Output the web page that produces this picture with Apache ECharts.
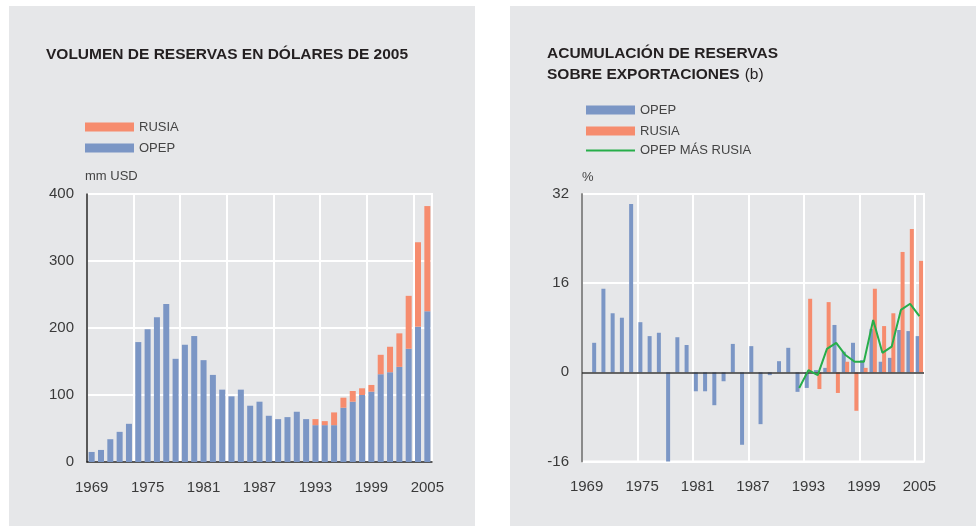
<!DOCTYPE html>
<html>
<head>
<meta charset="utf-8">
<script src="https://cdn.jsdelivr.net/npm/echarts@6/dist/echarts.min.js"></script>
<style>
html, body { margin: 0; padding: 0; background: #fff; }
#container { width: 976px; height: 526px; }
</style>
</head>
<body>
<div id="container"></div>
<script>
// años (eje x de los dos gráficos)
var years = ['1969','1970','1971','1972','1973','1974','1975','1976','1977','1978',
    '1979','1980','1981','1982','1983','1984','1985','1986','1987','1988',
    '1989','1990','1991','1992','1993','1994','1995','1996','1997','1998',
    '1999','2000','2001','2002','2003','2004','2005'];

// volumen de reservas, mm USD de 2005
var opepVol = [15,18,34,45,57,179,198,216,236,154,175,188,152,130,108,98,108,84,90,69,
    64,67,75,64,55,55,55,81,90,100,105,131,134,142,169,202,225];
var rusiaVol = [null,null,null,null,null,null,null,null,null,null,null,null,null,null,null,null,
    null,null,null,null,null,null,null,null,9,6,19,15,16,10,10,29,38,50,79,126,157];

// acumulación de reservas sobre exportaciones, %
var opepAcc = [null,5.3,15.0,10.6,9.8,30.2,9.0,6.5,7.1,-16.0,6.3,4.9,-3.4,-3.4,-5.9,-1.6,
    5.1,-13.0,4.7,-9.3,-0.5,2.0,4.4,-3.5,-2.8,0.4,0.8,8.5,3.7,5.3,2.2,7.8,1.9,2.6,7.6,7.4,6.5];
var rusiaAcc = [null,null,null,null,null,null,null,null,null,null,null,null,null,null,null,null,
    null,null,null,null,null,null,null,null,13.2,-3.0,12.6,-3.7,1.9,-6.9,0.8,15.0,8.3,10.6,21.6,25.7,20.0];
var totalAcc = [null,null,null,null,null,null,null,null,null,null,null,null,null,null,null,null,
    null,null,null,null,null,null,null,-2.8,0.4,-0.5,4.2,5.3,3.1,1.9,1.9,9.4,3.5,4.6,11.2,12.3,10.1];

var blue = '#7b96c5';
var orange = '#f68c6e';
var green = '#27ae4a';
var font = 'Liberation Sans';

var dom = document.getElementById('container');
var myChart = echarts.init(dom, null, {renderer: 'canvas'});

var labelStyle = {color: '#3a3a3a', fontSize: 15, fontFamily: font};
var legendText = {color: '#444', fontSize: 13, fontFamily: font};

var option = {
    animation: false,
    backgroundColor: '#fff',
    graphic: [
        {type: 'rect', z: -10, shape: {x: 9, y: 6, width: 466, height: 520}, style: {fill: '#e6e7e9'}},
        {type: 'rect', z: -10, shape: {x: 510, y: 6, width: 466, height: 520}, style: {fill: '#e6e7e9'}}
    ],
    title: [{
        text: 'VOLUMEN DE RESERVAS EN DÓLARES DE 2005',
        left: 46, top: 47, padding: 0,
        textStyle: {fontFamily: font, fontSize: 15.5, fontWeight: 'bold', color: '#231f20'}
    }, {
        text: '{b|ACUMULACIÓN DE RESERVAS}\n{b|SOBRE EXPORTACIONES} {n|(b)}',
        left: 547, top: 43.5, padding: 0,
        textStyle: {
            rich: {
                b: {fontFamily: font, fontSize: 15.5, fontWeight: 'bold', color: '#231f20', lineHeight: 21},
                n: {fontFamily: font, fontSize: 15.5, fontWeight: 'normal', color: '#231f20', lineHeight: 21}
            }
        }
    }],
    legend: [{
        left: 85, top: 120.5, orient: 'vertical', padding: 0, itemGap: 8,
        itemWidth: 49, itemHeight: 9, icon: 'rect', selectedMode: false,
        textStyle: legendText,
        data: ['RUSIA', 'OPEP']
    }, {
        left: 586, top: 103.5, orient: 'vertical', padding: 0, itemGap: 8,
        itemWidth: 49, itemHeight: 9, icon: 'rect', selectedMode: false,
        textStyle: legendText,
        data: ['OPEP', 'RUSIA']
    }, {
        left: 586, top: 144, orient: 'vertical', padding: 0,
        itemWidth: 49, itemHeight: 2, icon: 'rect', selectedMode: false,
        textStyle: legendText,
        data: ['OPEP MÁS RUSIA']
    }],
    grid: [
        {left: 87, top: 194, width: 345, height: 268, show: true, borderColor: '#fff', borderWidth: 2, backgroundColor: 'transparent'},
        {left: 582, top: 194, width: 342, height: 267.5, show: true, borderColor: '#fff', borderWidth: 2, backgroundColor: 'transparent'}
    ],
    xAxis: [{
        type: 'category', gridIndex: 0, data: years, boundaryGap: true,
        axisLine: {lineStyle: {color: '#222', width: 1.5}},
        axisTick: {show: false},
        axisLabel: Object.assign({interval: 5, margin: 18}, labelStyle),
        splitLine: {show: true, interval: 4, lineStyle: {color: '#fff', width: 2}}
    }, {
        type: 'category', gridIndex: 1, data: years, boundaryGap: true,
        axisLine: {show: false, onZero: false},
        axisTick: {show: false},
        axisLabel: Object.assign({interval: 5, margin: 18}, labelStyle),
        splitLine: {show: true, interval: 5, lineStyle: {color: '#fff', width: 2}}
    }],
    yAxis: [{
        type: 'value', gridIndex: 0, min: 0, max: 400, interval: 100,
        name: 'mm USD', nameLocation: 'end', nameGap: 18,
        nameTextStyle: {align: 'left', verticalAlign: 'middle', padding: [0, 0, 0, -2], color: '#444', fontSize: 13, fontFamily: font},
        axisLine: {show: true, lineStyle: {color: '#222', width: 1.5}},
        axisTick: {show: false},
        axisLabel: Object.assign({margin: 13}, labelStyle),
        splitLine: {lineStyle: {color: '#fff', width: 2}}
    }, {
        type: 'value', gridIndex: 1, min: -16, max: 32, interval: 16,
        name: '%', nameLocation: 'end', nameGap: 17,
        nameTextStyle: {align: 'left', verticalAlign: 'middle', color: '#444', fontSize: 13, fontFamily: font},
        axisLine: {show: true, lineStyle: {color: '#8a8a8a', width: 2}},
        axisTick: {show: false},
        axisLabel: Object.assign({margin: 13}, labelStyle),
        splitLine: {lineStyle: {color: '#fff', width: 2}}
    }],
    series: [{
        name: 'OPEP', type: 'bar', stack: 'vol', xAxisIndex: 0, yAxisIndex: 0,
        barWidth: 6, itemStyle: {color: blue}, data: opepVol
    }, {
        name: 'RUSIA', type: 'bar', stack: 'vol', xAxisIndex: 0, yAxisIndex: 0,
        barWidth: 6, itemStyle: {color: orange}, data: rusiaVol
    }, {
        name: 'OPEP', type: 'bar', xAxisIndex: 1, yAxisIndex: 1,
        barWidth: 4, barGap: '-15%', itemStyle: {color: blue}, data: opepAcc,
        markLine: {
            silent: true, symbol: 'none', label: {show: false},
            lineStyle: {color: '#333', type: 'solid', width: 1.5},
            data: [{yAxis: 0}]
        }
    }, {
        name: 'RUSIA', type: 'bar', xAxisIndex: 1, yAxisIndex: 1,
        barWidth: 4, barGap: '-15%', itemStyle: {color: orange}, data: rusiaAcc
    }, {
        name: 'OPEP MÁS RUSIA', type: 'line', xAxisIndex: 1, yAxisIndex: 1,
        symbol: 'none', z: 5, connectNulls: false,
        lineStyle: {color: green, width: 2}, itemStyle: {color: green}, data: totalAcc
    }]
};

myChart.setOption(option);
</script>
</body>
</html>
